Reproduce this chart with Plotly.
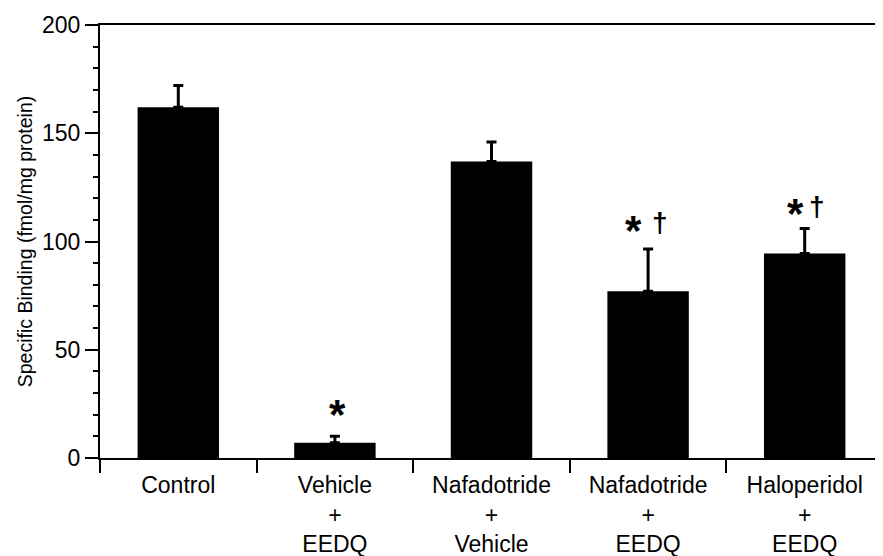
import plotly.graph_objects as go

categories = ["Control", "Vehicle<br>+<br>EEDQ", "Nafadotride<br>+<br>Vehicle",
              "Nafadotride<br>+<br>EEDQ", "Haloperidol<br>+<br>EEDQ"]
values = [162, 7, 137, 77, 94.5]
errors = [10, 3, 9, 19.5, 11.5]
zeros = [0, 0, 0, 0, 0]

# significance marks: (category index, y in data units, symbol, pixel x offset)
sig_cat = [1, 3, 3, 4, 4]
sig_y = [22.6, 107.5, 109, 115.4, 116.3]
sig_text = ["*", "*", "†", "*", "†"]
sig_dx = [3, -15, 12, -9, 12]

FONT = "Liberation Sans, Arial, Helvetica, sans-serif"

fig = go.Figure()
fig.add_trace(go.Bar(
    x=categories, y=values, width=0.52,
    marker=dict(color="black", line=dict(width=0)),
    error_y=dict(type="data", symmetric=False, array=errors, arrayminus=zeros,
                 color="black", thickness=3, width=5),
    showlegend=False,
))

for c, yv, t, dx in zip(sig_cat, sig_y, sig_text, sig_dx):
    if t == "*":
        fnt = dict(family=FONT, size=42, color="black")
        ys = -5
    else:
        fnt = dict(family=FONT, size=28, color="black")
        ys = 0
    fig.add_annotation(x=categories[c], y=yv, text="<b>" + t + "</b>", showarrow=False,
                       xshift=dx, yshift=ys, font=fnt)

fig.update_layout(
    width=875, height=548,
    margin=dict(l=92, r=0, t=17, b=98),
    plot_bgcolor="white", paper_bgcolor="white",
    font=dict(family=FONT, color="black"),
)
fig.update_xaxes(
    type="category", range=[-0.5, 4.5], automargin=False,
    showline=True, linecolor="black", linewidth=2, mirror=True,
    ticks="outside", tickson="boundaries", ticklen=13, tickwidth=2, tickcolor="black",
    tickfont=dict(family=FONT, size=23, color="black"),
    ticklabelstandoff=5,
    showgrid=False, zeroline=False,
)
fig.update_yaxes(
    range=[0, 200], tickvals=[0, 50, 100, 150, 200], automargin=False,
    showline=True, linecolor="black", linewidth=2,
    ticks="outside", ticklen=13, tickwidth=2, tickcolor="black",
    minor=dict(dtick=10, ticks="outside", ticklen=5, tickwidth=2, tickcolor="black", showgrid=False),
    tickfont=dict(family=FONT, size=23, color="black"),
    title=dict(text="Specific Binding (fmol/mg protein)", font=dict(family=FONT, size=19.5, color="black"), standoff=4),
    showgrid=False, zeroline=False,
)

fig.write_html("out.html")
